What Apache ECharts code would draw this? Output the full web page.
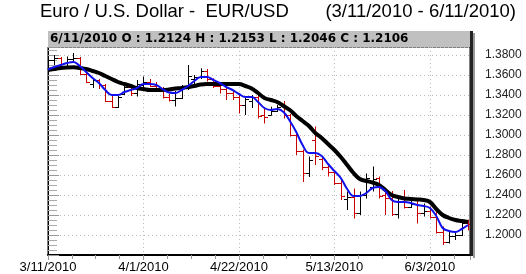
<!DOCTYPE html>
<html><head><meta charset="utf-8">
<script src="https://cdn.jsdelivr.net/npm/echarts@6/dist/echarts.min.js"></script>
<style>html,body{margin:0;padding:0;background:#fff}#c{width:526px;height:274px}</style>
</head><body><div id="c"></div>
<script>
const dates = ['3/11/2010','3/12/2010','3/15/2010','3/16/2010','3/17/2010','3/18/2010','3/19/2010','3/22/2010','3/23/2010','3/24/2010','3/25/2010','3/26/2010','3/29/2010','3/30/2010','3/31/2010',
'4/1/2010','4/2/2010','4/5/2010','4/6/2010','4/7/2010','4/8/2010','4/9/2010','4/12/2010','4/13/2010','4/14/2010','4/15/2010','4/16/2010','4/19/2010','4/20/2010','4/21/2010','4/22/2010','4/23/2010','4/26/2010','4/27/2010','4/28/2010','4/29/2010','4/30/2010',
'5/3/2010','5/4/2010','5/5/2010','5/6/2010','5/7/2010','5/10/2010','5/11/2010','5/12/2010','5/13/2010','5/14/2010','5/17/2010','5/18/2010','5/19/2010','5/20/2010','5/21/2010','5/24/2010','5/25/2010','5/26/2010','5/27/2010','5/28/2010','5/31/2010',
'6/1/2010','6/2/2010','6/3/2010','6/4/2010','6/7/2010','6/8/2010','6/9/2010','6/10/2010','6/11/2010'];
const xTickLabels = ['3/11/2010','4/1/2010','4/22/2010','5/13/2010','6/3/2010'];
const yTickLabels = ['1.2000','1.2200','1.2400','1.2600','1.2800','1.3000','1.3200','1.3400','1.3600','1.3800'];
const opens = [1.3660,1.3755,1.3775,1.3685,1.3760,1.3775,1.3615,1.3510,1.3545,1.3500,1.3345,1.3285,1.3410,1.3480,1.3420,
1.3505,1.3535,1.3495,1.3455,1.3385,1.3350,1.3375,1.3490,1.3560,1.3580,1.3640,1.3560,1.3490,1.3460,1.3420,1.3385,1.3300,1.3340,1.3380,1.3200,1.3200,1.3240,
1.3290,1.3200,1.3000,1.2840,1.2620,1.2950,1.2760,1.2680,1.2630,1.2520,1.2360,1.2380,1.2220,1.2400,1.2480,1.2570,1.2400,1.2370,1.2210,1.2370,1.2280,
1.2310,1.2220,1.2240,1.2180,1.2030,1.1930,1.1990,1.2000,1.2124];
const highs = [1.3770,1.3800,1.3780,1.3785,1.3820,1.3780,1.3640,1.3565,1.3560,1.3510,1.3400,1.3390,1.3500,1.3490,1.3550,
1.3585,1.3560,1.3530,1.3480,1.3415,1.3440,1.3500,1.3700,1.3600,1.3667,1.3660,1.3567,1.3515,1.3485,1.3450,1.3400,1.3385,1.3400,1.3400,1.3260,1.3283,1.3300,
1.3340,1.3210,1.3010,1.2855,1.2785,1.3085,1.2770,1.2690,1.2650,1.2565,1.2435,1.2465,1.2435,1.2615,1.2685,1.2585,1.2450,1.2440,1.2385,1.2450,1.2350,
1.2365,1.2315,1.2285,1.2265,1.2085,1.2035,1.2040,1.2130,1.2153];
const lows = [1.3630,1.3700,1.3665,1.3660,1.3720,1.3600,1.3520,1.3470,1.3460,1.3330,1.3270,1.3270,1.3400,1.3390,1.3385,
1.3455,1.3480,1.3445,1.3365,1.3335,1.3285,1.3360,1.3450,1.3490,1.3560,1.3535,1.3470,1.3415,1.3350,1.3350,1.3215,1.3200,1.3270,1.3165,1.3115,1.3195,1.3230,
1.3165,1.2985,1.2800,1.2530,1.2580,1.2700,1.2650,1.2585,1.2500,1.2350,1.2250,1.2165,1.2200,1.2365,1.2435,1.2365,1.2200,1.2190,1.2165,1.2265,1.2270,
1.2115,1.2185,1.2165,1.2015,1.1900,1.1915,1.1950,1.1990,1.2046];
const closes = [1.3755,1.3775,1.3685,1.3760,1.3775,1.3615,1.3530,1.3545,1.3500,1.3345,1.3285,1.3380,1.3480,1.3420,1.3510,
1.3535,1.3495,1.3455,1.3385,1.3350,1.3375,1.3480,1.3590,1.3580,1.3640,1.3560,1.3490,1.3460,1.3420,1.3385,1.3300,1.3360,1.3380,1.3190,1.3180,1.3240,1.3285,
1.3200,1.3000,1.2840,1.2620,1.2750,1.2790,1.2680,1.2630,1.2520,1.2390,1.2380,1.2220,1.2400,1.2570,1.2560,1.2390,1.2370,1.2210,1.2370,1.2280,1.2310,
1.2220,1.2240,1.2180,1.2030,1.1930,1.1990,1.2000,1.2124,1.2106];
const blueAvg = [1.3655,1.3680,1.3700,1.3720,1.3730,1.3690,1.3630,1.3570,1.3520,1.3450,1.3400,1.3400,1.3430,1.3450,1.3470,
1.3510,1.3510,1.3500,1.3460,1.3425,1.3420,1.3450,1.3490,1.3540,1.3580,1.3580,1.3550,1.3520,1.3480,1.3450,1.3410,1.3380,1.3380,1.3330,1.3270,1.3250,1.3260,
1.3230,1.3140,1.3030,1.2900,1.2820,1.2820,1.2790,1.2710,1.2640,1.2570,1.2460,1.2390,1.2390,1.2420,1.2470,1.2480,1.2440,1.2350,1.2330,1.2330,1.2320,
1.2300,1.2290,1.2270,1.2190,1.2070,1.2040,1.2030,1.2060,1.2100];
const blackAvg = [1.3650,1.3660,1.3670,1.3675,1.3677,1.3670,1.3660,1.3640,1.3620,1.3590,1.3560,1.3530,1.3510,1.3490,1.3470,
1.3460,1.3450,1.3450,1.3450,1.3455,1.3465,1.3470,1.3480,1.3490,1.3505,1.3510,1.3510,1.3510,1.3510,1.3510,1.3510,1.3490,1.3465,1.3420,1.3370,1.3350,1.3330,
1.3290,1.3250,1.3190,1.3140,1.3090,1.3020,1.2970,1.2910,1.2850,1.2780,1.2700,1.2620,1.2560,1.2540,1.2525,1.2500,1.2450,1.2400,1.2380,1.2365,1.2360,
1.2355,1.2350,1.2330,1.2260,1.2200,1.2170,1.2150,1.2140,1.2130];

const FONT = '"Liberation Sans", Arial, sans-serif';
const n = dates.length;
const ohlc = dates.map((d, i) => [i, opens[i], highs[i], lows[i], closes[i]]);
const blueData = blueAvg.map((v, i) => [i, v]);
const blackData = blackAvg.map((v, i) => [i, v]);
const last = n - 1;
const header = dates[last] + ' O : ' + opens[last].toFixed(4) + ' H : ' + highs[last].toFixed(4) +
  ' L : ' + lows[last].toFixed(4) + ' C : ' + closes[last].toFixed(4);

const chart = echarts.init(document.getElementById('c'), null, {renderer: 'canvas'});
chart.setOption({
  animation: false,
  backgroundColor: '#fff',
  grid: {left: 48, right: 56, top: 47, bottom: 19, show: true, borderColor: '#000', borderWidth: 1, backgroundColor: 'transparent'},
  xAxis: {
    type: 'value', min: 0, max: 66.3, interval: 15,
    axisLine: {show: true, onZero: false, lineStyle: {color: '#000', width: 2}},
    axisTick: {show: true, length: 5, lineStyle: {color: '#999'}},
    minorTick: {show: true, splitNumber: 4, length: 4, lineStyle: {color: '#999'}},
    axisLabel: {
      color: '#000', fontFamily: FONT, fontSize: 13, margin: 6,
      formatter: v => (Number.isInteger(v) && xTickLabels.includes(dates[v])) ? dates[v] : ''
    },
    splitLine: {show: true, lineStyle: {color: '#bbb', type: [1, 3], width: 1}}
  },
  yAxis: {
    type: 'value', position: 'right', min: 1.18, max: 1.388, interval: 0.02,
    axisLine: {show: true, lineStyle: {color: '#000', width: 1}},
    axisTick: {show: true, length: 11, lineStyle: {color: '#999'}},
    minorTick: {show: true, splitNumber: 4, length: 9, lineStyle: {color: '#aaa'}},
    axisLabel: {
      color: '#222', fontFamily: FONT, fontSize: 12, margin: 15,
      formatter: v => { const s = v.toFixed(4); return yTickLabels.includes(s) ? s : ''; }
    },
    splitLine: {show: true, lineStyle: {color: '#bbb', type: [1, 3], width: 1}}
  },
  graphic: [
    {type: 'rect', z: 100, shape: {x: 48, y: 31, width: 422, height: 16}, style: {fill: '#c0c0c0'}},
    {type: 'rect', z: 101, shape: {x: 470, y: 31, width: 3, height: 225}, style: {fill: '#222'}},
    {type: 'rect', z: 101, shape: {x: 473, y: 33, width: 2, height: 225}, style: {fill: '#999'}},
    {type: 'text', z: 102, style: {x: 40, y: 12, text: 'Euro / U.S. Dollar -  EUR/USD', font: '18.5px ' + FONT, fill: '#000', verticalAlign: 'middle'}},
    {type: 'text', z: 102, style: {x: 516, y: 12, text: '(3/11/2010 - 6/11/2010)', font: '18.5px ' + FONT, fill: '#000', verticalAlign: 'middle', align: 'right'}},
    {type: 'text', z: 102, style: {x: 50, y: 39, text: header, font: 'bold 12px "DejaVu Sans", sans-serif', fill: '#000', verticalAlign: 'middle'}}
  ],
  series: [
    {
      type: 'custom', data: ohlc, encode: {x: 0, y: [1, 2, 3, 4]}, clip: true, z: 2,
      renderItem: (params, api) => {
        const i = api.value(0), o = api.value(1), h = api.value(2), l = api.value(3), c = api.value(4);
        const pH = api.coord([i, h]), pL = api.coord([i, l]), pO = api.coord([i, o]), pC = api.coord([i, c]);
        const color = c >= o ? '#000' : '#c80000';
        const x = Math.round(pH[0]) + 0.5;
        const st = {stroke: color, lineWidth: 1};
        return {type: 'group', children: [
          {type: 'line', shape: {x1: x, y1: pH[1], x2: x, y2: pL[1]}, style: st},
          {type: 'line', shape: {x1: x - 3.5, y1: Math.round(pO[1]) + 0.5, x2: x, y2: Math.round(pO[1]) + 0.5}, style: st},
          {type: 'line', shape: {x1: x, y1: Math.round(pC[1]) + 0.5, x2: x + 3.5, y2: Math.round(pC[1]) + 0.5}, style: st}
        ]};
      }
    },
    {type: 'line', data: blackData, showSymbol: false, smooth: 0.4, z: 3, lineStyle: {color: '#000', width: 4}},
    {type: 'line', data: blueData, showSymbol: false, smooth: 0.4, z: 4, lineStyle: {color: '#1010ee', width: 2}}
  ]
});
</script></body></html>
